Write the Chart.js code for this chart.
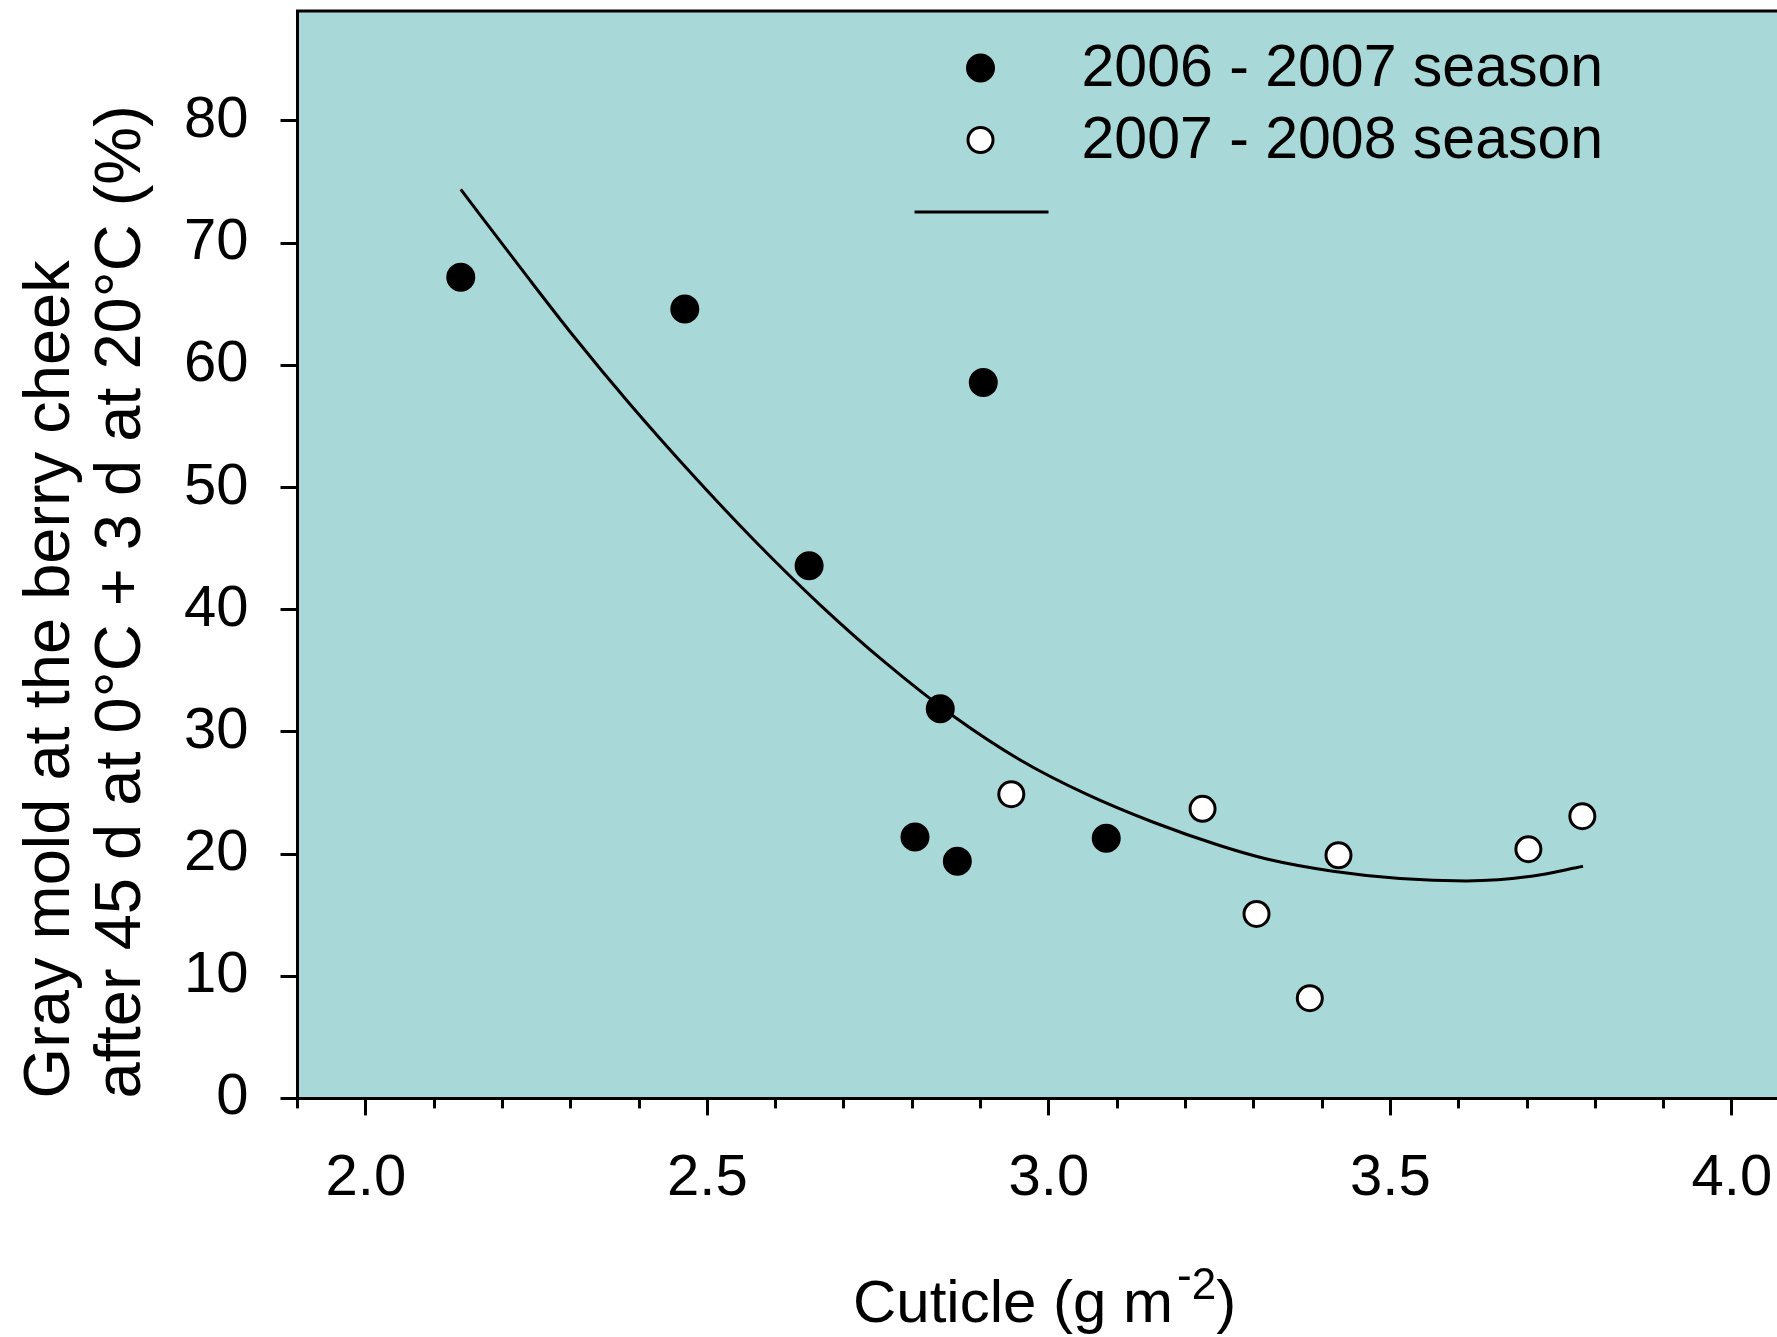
<!DOCTYPE html>
<html>
<head>
<meta charset="utf-8">
<title>Gray mold vs cuticle</title>
<script src="https://cdn.jsdelivr.net/npm/chart.js@4.4.1/dist/chart.umd.min.js"></script>
<style>
    html, body { margin: 0; padding: 0; background: #fff; overflow: hidden; }
    canvas { display: block; }
</style>
</head>
<body>
<canvas id="moldChart" width="1777" height="1337"></canvas>
<script>
// 2006 - 2007 season (filled)
const season1Cuticle = [2.139, 2.467, 2.904, 2.649, 2.841, 2.804, 2.866, 3.084];
const season1Mold = [67.2, 64.6, 58.6, 43.6, 31.9, 21.4, 19.4, 21.3];

// 2007 - 2008 season (open)
const season2Cuticle = [2.945, 3.225, 3.304, 3.382, 3.424, 3.702, 3.781];
const season2Mold = [24.9, 23.7, 15.1, 8.2, 19.9, 20.4, 23.1];

// regression curve over both seasons
const fitCuticle = [2.139, 2.233, 2.304, 2.384, 2.479, 2.570, 2.665, 2.762, 2.860, 2.958,
    3.055, 3.153, 3.250, 3.319, 3.416, 3.514, 3.611, 3.709, 3.782];
const fitMold = [74.4, 67.5, 62.4, 57.0, 51.0, 45.6, 40.4, 35.6, 31.3, 27.7,
    24.9, 22.6, 20.7, 19.6, 18.6, 18.0, 17.8, 18.2, 19.0];

const seasonLabels = ['2006 - 2007 season', '2007 - 2008 season'];
const yTitle = ['Gray mold at the berry cheek', 'after 45 d at 0\u00B0C + 3 d at 20\u00B0C (%)'];

const FONT = '"Liberation Sans", Arial, Helvetica, sans-serif';
const PLOT_BG = '#a8d9d8';

Chart.defaults.font.family = FONT;
Chart.defaults.color = '#000';

function toPoints(xs, ys) {
    return xs.map((x, i) => ({x: x, y: ys[i]}));
}

// teal plot area with a frame line along the top
const plotBackground = {
    id: 'plotBackground',
    beforeDraw(chart) {
        const {ctx, chartArea: a} = chart;
        ctx.save();
        ctx.fillStyle = PLOT_BG;
        ctx.fillRect(a.left, a.top, a.right - a.left, a.bottom - a.top);
        ctx.strokeStyle = '#000';
        ctx.lineWidth = 3;
        ctx.beginPath();
        ctx.moveTo(a.left - 1.5, a.top);
        ctx.lineTo(a.right, a.top);
        ctx.stroke();
        ctx.restore();
    }
};

// legend inside the plot + x axis title with superscript
const extras = {
    id: 'extras',
    afterDraw(chart) {
        const {ctx, chartArea: a} = chart;
        const ds = chart.data.datasets;
        ctx.save();

        const mx = a.left + 683;
        const rows = [a.top + 57, a.top + 129];
        ctx.font = '59px ' + FONT;
        ctx.textBaseline = 'middle';
        ctx.textAlign = 'left';
        for (let i = 0; i < 2; i++) {
            ctx.beginPath();
            ctx.arc(mx, rows[i], ds[i].pointRadius, 0, Math.PI * 2);
            ctx.fillStyle = ds[i].backgroundColor;
            ctx.fill();
            ctx.lineWidth = ds[i].borderWidth;
            ctx.strokeStyle = ds[i].borderColor;
            ctx.stroke();
            ctx.fillStyle = '#000';
            ctx.fillText(seasonLabels[i], a.left + 784, rows[i] + 2);
        }
        ctx.beginPath();
        ctx.lineWidth = ds[2].borderWidth;
        ctx.strokeStyle = ds[2].borderColor;
        ctx.moveTo(a.left + 617, a.top + 201);
        ctx.lineTo(a.left + 751, a.top + 201);
        ctx.stroke();

        // Cuticle (g m-2)
        const base = 1322;
        const big = '60px ' + FONT, small = '44px ' + FONT;
        ctx.textBaseline = 'alphabetic';
        ctx.font = big;
        const w1 = ctx.measureText('Cuticle (g m').width;
        const w4 = ctx.measureText(')').width;
        ctx.font = small;
        const w2 = ctx.measureText('-').width;
        const w3 = ctx.measureText('2').width;
        const total = w1 + w2 + w3 + w4 + 4;
        let x = 853;
        ctx.font = big;
        ctx.fillText('Cuticle (g m', x, base);
        x += w1 + 4;
        ctx.font = small;
        ctx.fillText('-', x, base - 32);
        x += w2;
        ctx.fillText('2', x, base - 23);
        x += w3;
        ctx.font = big;
        ctx.fillText(')', x, base);
        ctx.restore();
    }
};

const ctx = document.getElementById('moldChart');

const moldChart = new Chart(ctx, {
    type: 'scatter',
    data: {
        datasets: [{
            label: seasonLabels[0],
            data: toPoints(season1Cuticle, season1Mold),
            pointRadius: 13,
            borderWidth: 3,
            backgroundColor: '#000',
            borderColor: '#000',
            order: 1
        }, {
            label: seasonLabels[1],
            data: toPoints(season2Cuticle, season2Mold),
            pointRadius: 12.5,
            borderWidth: 3,
            backgroundColor: '#fff',
            borderColor: '#000',
            order: 2
        }, {
            label: 'fit',
            data: toPoints(fitCuticle, fitMold),
            showLine: true,
            pointRadius: 0,
            borderWidth: 3,
            borderColor: '#000',
            backgroundColor: '#000',
            cubicInterpolationMode: 'monotone',
            order: 3
        }]
    },
    options: {
        responsive: false,
        animation: false,
        layout: {
            autoPadding: false,
            padding: {left: 0, top: 11, right: 0, bottom: 123}
        },
        plugins: {
            legend: {display: false},
            tooltip: {enabled: false}
        },
        scales: {
            x: {
                type: 'linear',
                position: 'bottom',
                weight: 1,
                min: 1.9,
                max: 4.066,
                ticks: {
                    stepSize: 0.5,
                    includeBounds: false,
                    padding: 29,
                    font: {size: 58},
                    callback: (v) => v.toFixed(1)
                },
                grid: {
                    drawOnChartArea: false,
                    tickLength: 17,
                    tickWidth: 3,
                    tickColor: '#000'
                },
                border: {color: '#000', width: 3},
                // fit() counts the label padding twice; keep only one
                afterFit: (s) => {
                    s.height -= 29;
                    s.paddingLeft = 0;
                    s.paddingRight = 0;
                }
            },
            xMinor: {
                type: 'linear',
                position: 'bottom',
                weight: 0,
                min: 1.9,
                max: 4.066,
                ticks: {
                    stepSize: 0.1,
                    includeBounds: false,
                    display: false
                },
                grid: {
                    drawOnChartArea: false,
                    tickLength: 10,
                    tickWidth: 3,
                    tickColor: '#000'
                },
                border: {display: false},
                afterFit: (s) => {
                    s.height = 0;
                    s.paddingLeft = 0;
                    s.paddingRight = 0;
                }
            },
            y: {
                min: 0,
                max: 89,
                ticks: {
                    stepSize: 10,
                    includeBounds: false,
                    padding: 32,
                    font: {size: 58}
                },
                grid: {
                    drawOnChartArea: false,
                    tickLength: 17,
                    tickWidth: 3,
                    tickColor: '#000'
                },
                border: {color: '#000', width: 3},
                title: {
                    display: true,
                    text: yTitle,
                    align: 'start',
                    font: {size: 65, lineHeight: 1.1},
                    padding: {top: 15, bottom: 26}
                },
                afterFit: (s) => {
                    s.width -= 32;
                    s.paddingTop = 0;
                }
            }
        }
    },
    plugins: [plotBackground, extras]
});
</script>
</body>
</html>
